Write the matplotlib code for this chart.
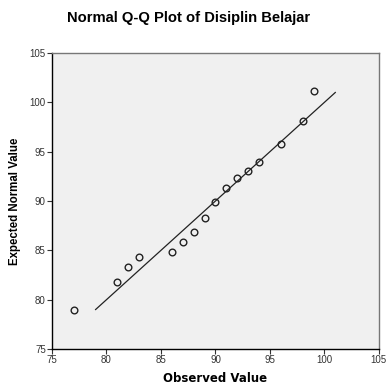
import matplotlib
matplotlib.use("Agg")
import matplotlib.pyplot as plt

plt.rcParams['font.family'] = ['Liberation Sans', 'DejaVu Sans']

observed = [77, 81, 82, 83, 86, 87, 88, 89, 90, 91, 92, 93, 94, 96, 98, 99]
expected = [79.0, 81.8, 83.35, 84.3, 84.8, 85.8, 86.9, 88.25, 89.9, 91.3, 92.3, 93.0, 93.95, 95.8, 98.1, 101.15]
line_x = [79, 101]
line_y = [79, 101]
ticks = [75, 80, 85, 90, 95, 100, 105]

fig = plt.figure(figsize=(3.87, 3.87), dpi=100)
ax = fig.add_axes([0.1344, 0.0982, 0.8446, 0.7648])
ax.set_facecolor('#f0f0f0')
ax.plot(line_x, line_y, color='#222222', lw=0.9)
ax.plot(observed, expected, 'o', mfc='none', mec='#222222', ms=4.8, mew=1.0)
ax.set_xlim(75, 105)
ax.set_ylim(75, 105)
ax.set_xticks(ticks)
ax.set_yticks(ticks)
ax.tick_params(direction='out', length=3.5, width=0.8, labelsize=7, colors='#333333', pad=1)
for s in ['left', 'bottom']:
    ax.spines[s].set_color('black')
    ax.spines[s].set_linewidth(1.0)
for s in ['top', 'right']:
    ax.spines[s].set_color('#777777')
    ax.spines[s].set_linewidth(1.0)
ax.set_xlabel('Observed Value', fontsize=8.5, fontweight='bold', labelpad=5,
              family=['DejaVu Sans'])
ax.set_ylabel('Expected Normal Value', fontsize=8.3, fontweight='bold', labelpad=6)
fig.text(0.487, 0.953, 'Normal Q-Q Plot of Disiplin Belajar', fontsize=10.6, fontweight='bold', ha='center', va='center')
fig.savefig('out.png', dpi=100)
